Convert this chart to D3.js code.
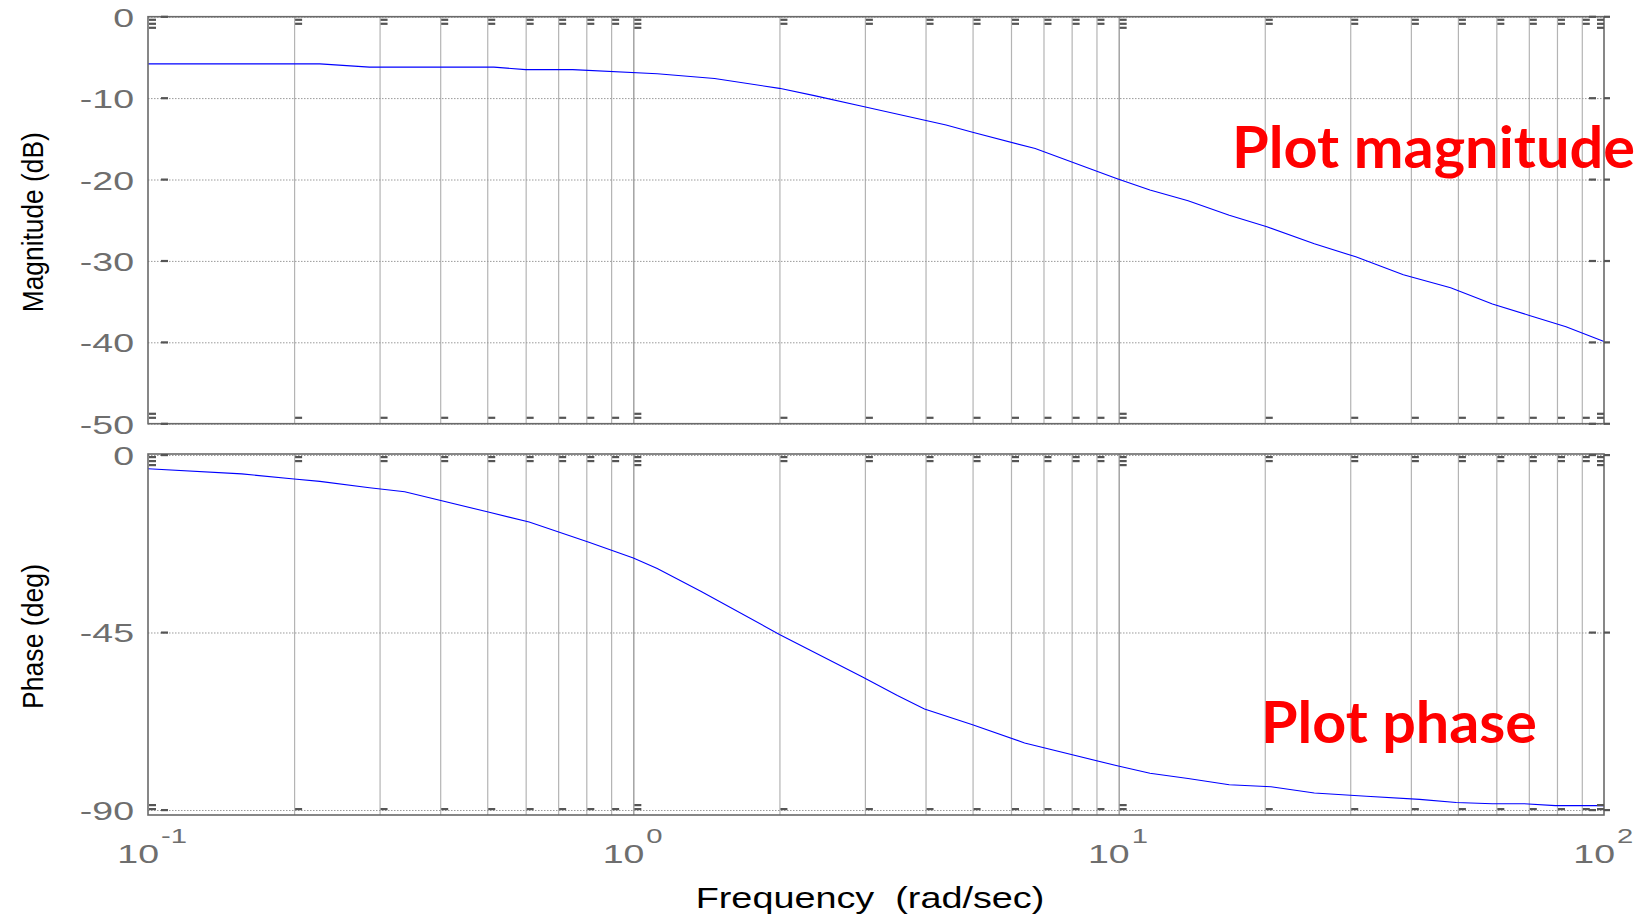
<!DOCTYPE html>
<html><head><meta charset="utf-8">
<script src="https://cdn.jsdelivr.net/npm/d3@7"></script>
<style>body{margin:0;background:#fff}svg{display:block}</style>
</head><body>
<svg id="c" width="1648" height="914"></svg>
<script>
// ---- data ----
const magFreq = [0.1, 0.226, 0.286, 0.516, 0.6, 0.75, 1.12, 1.47, 2.0, 2.36, 2.96, 4.41, 5.0, 6.73, 9.93, 11.6, 13.9, 16.9, 20.2, 25.3, 30.8, 38.6, 48.3, 58.9, 70.2, 83.5, 100];
const magDb = [-5.8, -5.8, -6.2, -6.2, -6.5, -6.5, -7.0, -7.6, -8.8, -9.7, -11.0, -13.3, -14.2, -16.2, -19.9, -21.3, -22.6, -24.4, -25.8, -27.9, -29.5, -31.7, -33.3, -35.3, -36.7, -38.1, -39.9];
const phaseFreq = [0.1, 0.156, 0.2, 0.226, 0.286, 0.338, 0.5, 0.61, 0.81, 1.0, 1.12, 1.38, 2.0, 2.96, 3.5, 3.98, 5.0, 6.4, 9.93, 11.6, 13.9, 16.9, 20.6, 25.3, 32.4, 41.7, 49.6, 58.9, 68.5, 79.4, 100];
const phaseDeg = [-3.5, -4.8, -6.1, -6.7, -8.3, -9.3, -14.4, -17.0, -22.1, -26.1, -28.8, -34.6, -45.5, -56.2, -61.0, -64.4, -68.4, -73.0, -78.8, -80.7, -82.0, -83.6, -84.1, -85.7, -86.5, -87.3, -88.1, -88.4, -88.4, -88.9, -88.9];
const magTicks = [0, -10, -20, -30, -40, -50];
const phaseTicks = [0, -45, -90];
const decadeExps = [-1, 0, 1, 2];
const magLabel = "Magnitude (dB)";
const phaseLabel = "Phase (deg)";
const xLabel = "Frequency  (rad/sec)";
const note1 = "Plot magnitude";
const note2 = "Plot phase";

const svg = d3.select("#c");
const L = 148, R = 1604;
const x = d3.scaleLog().domain([0.1, 100]).range([L, R]);
const decades = decadeExps.map(e => Math.pow(10, e));
const minors = [];
[0.1, 1, 10].forEach(d => { for (let k = 2; k <= 9; k++) minors.push(d * k); });
const inner = minors.concat([1, 10]);

const axisCol = "#6a6a6a", labCol = "#6e6e6e";
const font = "'Liberation Sans', Arial, Helvetica, sans-serif";

function panel(top, bottom, domain, ticks, freq, vals, ylab, ylabLen) {
  const y = d3.scaleLinear().domain(domain).range([bottom, top]);
  const g = svg.append("g");
  // vertical grid
  const vg = g.append("g").attr("transform", `translate(0,${bottom})`)
    .call(d3.axisBottom(x).tickValues(inner).tickSize(-(bottom - top)).tickFormat(""));
  vg.select(".domain").remove();
  vg.selectAll(".tick line").attr("stroke", d => (d === 1 || d === 10) ? "#8c8c8c" : "#b4b4b4").attr("stroke-width", 1.2);
  // horizontal dotted grid
  const hg = g.append("g").attr("transform", `translate(${L},0)`)
    .call(d3.axisLeft(y).tickValues(ticks).tickSize(-(R - L)).tickFormat(""));
  hg.select(".domain").remove();
  hg.selectAll(".tick line").attr("stroke", "#9a9a9a").attr("stroke-width", 1).attr("stroke-dasharray", "1.5,1.5");
  // curve
  const line = d3.line().x(d => x(d[0])).y(d => y(d[1]));
  g.append("path").datum(freq.map((f, i) => [f, vals[i]]))
    .attr("d", line).attr("fill", "none").attr("stroke", "#0000ff").attr("stroke-width", 1.1);
  // box
  g.append("rect").attr("x", L).attr("y", top).attr("width", R - L).attr("height", bottom - top)
    .attr("fill", "none").attr("stroke", axisCol).attr("stroke-width", 1.6);
  // tick dashes (x)
  const tg = g.append("g").attr("fill", "#555");
  const allX = decades.concat(minors);
  allX.forEach(f => {
    const isMaj = decades.includes(f);
    const nTop = isMaj ? 3 : 2, nBot = isMaj ? 2 : 1;
    const xs = x(f) + (f === 100 ? -7 : 1);
    for (let i = 0; i < nTop; i++) tg.append("rect").attr("x", xs).attr("y", top + 2 + i * 4).attr("width", 7).attr("height", 2.2);
    for (let i = 0; i < nBot; i++) tg.append("rect").attr("x", xs).attr("y", bottom - 7 - i * 4).attr("width", 7).attr("height", 2.2);
  });
  // tick dashes (y)
  ticks.forEach(t => {
    tg.append("rect").attr("x", L + 13).attr("y", y(t) - 1).attr("width", 7).attr("height", 2.2);
    tg.append("rect").attr("x", R - 15).attr("y", y(t) - 1).attr("width", 7).attr("height", 2.2);
    tg.append("rect").attr("x", R).attr("y", y(t) - 1).attr("width", 6).attr("height", 2.2);
  });
  // y tick labels
  ticks.forEach(t => {
    g.append("text").attr("transform", `translate(134,${y(t) + 10}) scale(1.5,1)`)
      .attr("text-anchor", "end").attr("font-family", font).attr("font-size", 25)
      .attr("fill", labCol).text(t);
  });
  // y label
  g.append("text").attr("transform", `translate(43,${(top + bottom) / 2 + 2}) rotate(-90)`)
    .attr("text-anchor", "middle").attr("font-family", font).attr("font-size", 30)
    .attr("textLength", ylabLen).attr("lengthAdjust", "spacingAndGlyphs")
    .attr("fill", "#000").text(ylab);
  return y;
}

panel(16.7, 423.7, [-50, 0], magTicks, magFreq, magDb, magLabel, 180);
panel(454, 815, [-91.27, 0.25], phaseTicks, phaseFreq, phaseDeg, phaseLabel, 145);

// x tick labels 10^n
decadeExps.forEach(e => {
  const xp = x(Math.pow(10, e));
  const t = svg.append("g");
  t.append("text").attr("transform", `translate(${xp + 11},863) scale(1.5,1)`)
    .attr("text-anchor", "end").attr("font-family", font).attr("font-size", 25).attr("fill", labCol).text("10");
  t.append("text").attr("transform", `translate(${xp + 13},843) scale(1.5,1)`)
    .attr("text-anchor", "start").attr("font-family", font).attr("font-size", 19.5).attr("fill", labCol).text(String(e));
});

// x label
svg.append("text").attr("transform", `translate(870,908) scale(1.26,1)`)
  .attr("text-anchor", "middle").attr("font-family", font).attr("font-size", 30)
  .attr("fill", "#000").attr("xml:space", "preserve").style("white-space", "pre").text(xLabel);

// annotations
svg.append("text").attr("x", 1232).attr("y", 168).attr("font-family", "Lato, 'Open Sans', sans-serif")
  .attr("font-weight", "bold").attr("font-size", 58).attr("fill", "#ff0000")
  .attr("textLength", 403).attr("lengthAdjust", "spacingAndGlyphs").text(note1);
svg.append("text").attr("x", 1261).attr("y", 743).attr("font-family", "Lato, 'Open Sans', sans-serif")
  .attr("font-weight", "bold").attr("font-size", 58).attr("fill", "#ff0000")
  .attr("textLength", 276).attr("lengthAdjust", "spacingAndGlyphs").text(note2);
</script>
</body></html>
